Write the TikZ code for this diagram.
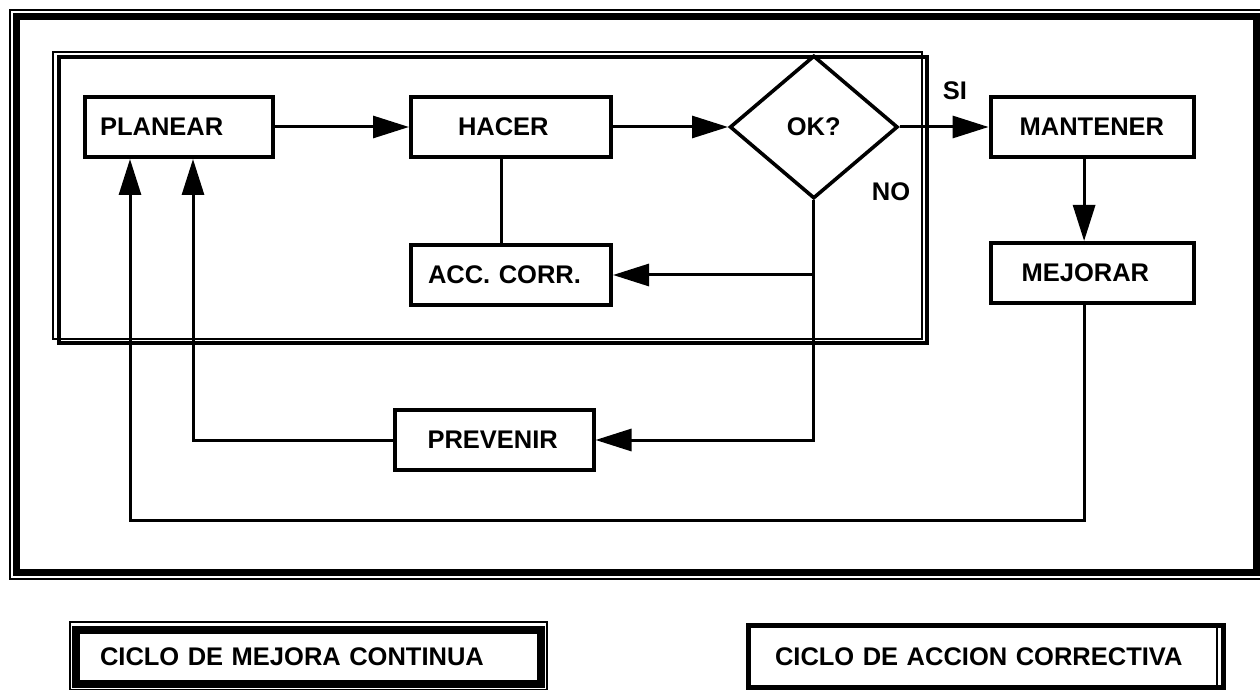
\documentclass[tikz,border=0pt]{standalone}
\usepackage{fontspec}
\setmainfont{Liberation Sans}
\usetikzlibrary{arrows.meta,positioning,shapes.geometric}
\newcommand\rotulo{\fontsize{12.75}{15}\selectfont\bfseries}

\begin{document}
\begin{tikzpicture}[x=0.5pt, y=-0.5pt, every node/.style={font=\rotulo},
  caja/.style={draw, line width=2pt, minimum height=30pt, align=left, inner ysep=0pt},
  flecha/.style={-{Triangle[length=18pt,width=11pt]}, line width=1.5pt}]
\useasboundingbox (0,0) rectangle (1260,690);
\fill[white] (0,0) rectangle (1260,690);
% marcos
\draw[line width=0.6pt] (10,10) rectangle (1262,579);
\draw[line width=3.5pt] (16.5,17) rectangle (1256,572);
\draw[line width=0.6pt] (53,52) rectangle (922,339);
\draw[line width=2pt] (59,57) rectangle (927,343);

\node[caja, text width=79pt, inner xsep=7.5pt] (planear) at (179,127) {PLANEAR};
\node[caja, text width=53pt, inner xsep=23.5pt, right=67pt of planear] (hacer) {HACER};
\node[draw, diamond, line width=1.8pt, minimum width=84pt, minimum height=71.5pt, inner sep=0pt, right=57.5pt of hacer] (ok) {OK?};
\node[caja, text width=72.5pt, inner xsep=14.5pt, right=44.5pt of ok] (mantener) {MANTENER};
\node[caja, text width=70.5pt, inner xsep=15.5pt, below=41pt of mantener] (mejorar) {MEJORAR};
\node[caja, text width=83pt, inner xsep=8.5pt, below=42pt of hacer] (acc) {ACC. CORR.};
\node[caja, text width=66.5pt, inner xsep=16.5pt, below=50.5pt of acc, xshift=-8.5pt] (prevenir) {PREVENIR};
\node (si) at (955,91) {SI};
\node (no) at (891,192) {NO};
\coordinate (esquina) at (130,520);

\draw[flecha] (planear) -- (hacer);
\draw[flecha] (hacer) -- (ok);
\draw[flecha] (ok) -- (mantener);
\draw[flecha] ([xshift=-4pt]mantener.south) -- ([xshift=-4pt]mejorar.north);
\draw[line width=1.5pt] ([xshift=-5pt]hacer.south) -- ([xshift=-5pt]acc.north);
\draw[flecha] (ok.south) |- (prevenir.east);
\draw[flecha] (ok.south |- acc.east) -- (acc.east);
\draw[flecha] (prevenir.west) -| ([xshift=7pt]planear.south);
\draw[flecha] ([xshift=-4pt]mejorar.south) |- (esquina) -- ([xshift=-24.5pt]planear.south);

% rotulos de abajo
\draw[line width=0.6pt] (70,622) rectangle (547,690);
\node[draw, line width=4pt, text width=208.5pt, inner xsep=12pt, minimum height=27pt, align=left] (mejora) at (308.5,657) {CICLO DE MEJORA CONTINUA};
\node[draw, line width=2.5pt, text width=210.75pt, inner xsep=13.25pt, minimum height=30.75pt, align=left] (correctiva) at (985.75,656.25) {CICLO DE ACCION CORRECTIVA};
\draw[line width=0.6pt] (1217,628) -- (1217,690);
\end{tikzpicture}
\end{document}
